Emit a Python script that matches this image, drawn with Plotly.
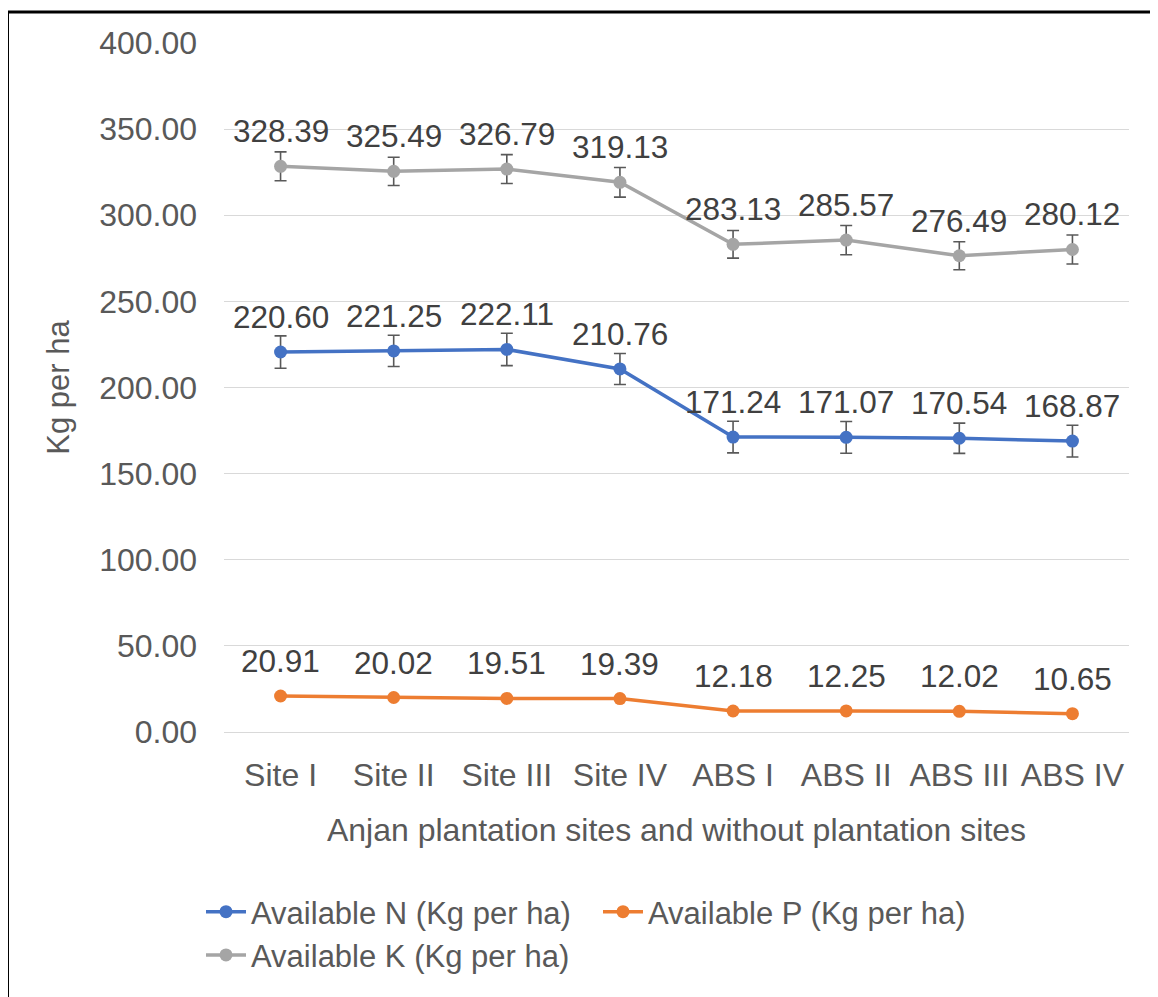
import plotly.graph_objects as go

categories = ["Site I", "Site II", "Site III", "Site IV", "ABS I", "ABS II", "ABS III", "ABS IV"]
n_values = [220.60, 221.25, 222.11, 210.76, 171.24, 171.07, 170.54, 168.87]
p_values = [20.91, 20.02, 19.51, 19.39, 12.18, 12.25, 12.02, 10.65]
k_values = [328.39, 325.49, 326.79, 319.13, 283.13, 285.57, 276.49, 280.12]
n_errors = [9.4, 9.1, 9.4, 9.0, 9.2, 9.2, 8.8, 9.2]
k_errors = [8.4, 8.2, 8.4, 8.6, 8.0, 8.5, 8.1, 8.4]
y_ticks = [0, 50, 100, 150, 200, 250, 300, 350, 400]

FONT = "Liberation Sans, Arial, sans-serif"
GREY_TEXT = "#595959"

series = [
    ("Available N (Kg per ha)", n_values, n_errors, "#4472C4"),
    ("Available P (Kg per ha)", p_values, None, "#ED7D31"),
    ("Available K (Kg per ha)", k_values, k_errors, "#A5A5A5"),
]

fig = go.Figure()
for name, vals, errs, color in series:
    kw = {}
    if errs is not None:
        kw["error_y"] = dict(type="data", array=errs, visible=True,
                             color="#595959", thickness=1.6, width=6)
    fig.add_trace(go.Scatter(
        x=categories, y=vals, name=name, mode="lines+markers",
        line=dict(color=color, width=3.5),
        marker=dict(color=color, size=13),
        **kw,
    ))

annotations = []
for name, vals, errs, color in series:
    for c, v in zip(categories, vals):
        annotations.append(dict(
            x=c, y=v, text=f"{v:.2f}", showarrow=False, yshift=35,
            font=dict(family=FONT, size=31.5, color="#404040"),
            xanchor="center", yanchor="middle",
        ))

# page body adds an 8px offset; geometry below is in reference-screen pixels
OFF = 8
FIG_W, FIG_H = 1158 - OFF, 997 - OFF
L, R, T, B = 224, 1129, 43, 732
W, H = R - L, B - T
def px(x):
    return (x - L) / W
def py(y):
    return (B - y) / H

shapes = [
    dict(type="line", xref="paper", yref="paper", x0=px(7), x1=px(1157), y0=py(12), y1=py(12),
         line=dict(color="black", width=3)),
    dict(type="line", xref="paper", yref="paper", x0=px(8), x1=px(8), y0=py(12), y1=py(1000),
         line=dict(color="black", width=2)),
    dict(type="line", xref="paper", yref="paper", x0=px(1155.5), x1=px(1155.5), y0=py(12), y1=py(1000),
         line=dict(color="#7f7f7f", width=1.5)),
]

fig.update_layout(
    width=FIG_W, height=FIG_H,
    margin=dict(l=L - OFF, r=FIG_W - (R - OFF), t=T - OFF, b=FIG_H - (B - OFF)),
    paper_bgcolor="white", plot_bgcolor="white",
    font=dict(family=FONT, size=31, color=GREY_TEXT),
    showlegend=True,
    legend=dict(orientation="h", x=px(201), xanchor="left", y=py(885), yanchor="top",
                font=dict(family=FONT, size=31, color=GREY_TEXT),
                itemwidth=40, tracegroupgap=0, entrywidth=342, entrywidthmode="pixels"),
    annotations=annotations,
    shapes=shapes,
    xaxis=dict(
        type="category", showgrid=False, showline=True, linecolor="#d9d9d9", linewidth=1,
        ticks="", tickfont=dict(family=FONT, size=32, color=GREY_TEXT),
        ticklabelstandoff=15,
        title=dict(text="Anjan plantation sites and without plantation sites",
                   font=dict(family=FONT, size=32, color=GREY_TEXT), standoff=26),
        range=[-0.5, 7.5], fixedrange=True,
    ),
    yaxis=dict(
        range=[0, 400], tickvals=y_ticks, ticktext=[f"{t:.2f}" for t in y_ticks],
        showgrid=True, gridcolor="#d9d9d9", gridwidth=1, zeroline=False, showline=False,
        ticks="", tickfont=dict(family=FONT, size=32, color=GREY_TEXT),
        ticklabelstandoff=26,
        title=dict(text="Kg per ha", font=dict(family=FONT, size=31, color=GREY_TEXT), standoff=20),
        fixedrange=True,
    ),
)

fig.write_html("out.html")
